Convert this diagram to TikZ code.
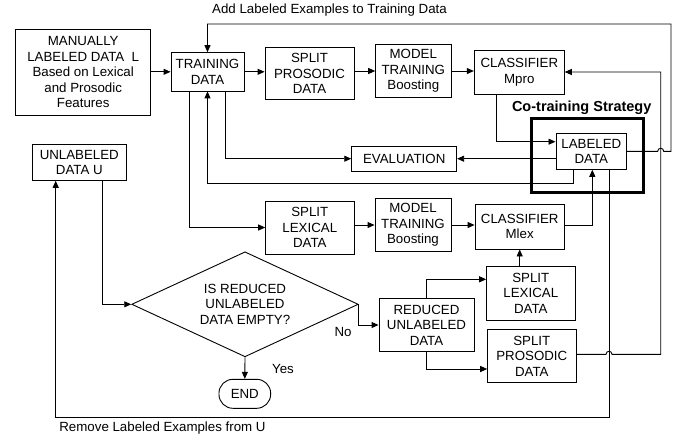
\documentclass[tikz,border=0pt]{standalone}
\usepackage{fontspec}
\setmainfont{Liberation Sans}
\usetikzlibrary{arrows.meta,shapes.geometric}
\begin{document}
\begin{tikzpicture}[x=1pt,y=-1pt,
  box/.style={draw,line width=0.9pt,align=center,inner sep=0pt,font=\fontsize{13.3}{15.5}\selectfont},
  arr/.style={line width=0.9pt,-{Triangle[length=7pt,width=6pt]}},
  lbl/.style={font=\fontsize{13.3}{15.5}\selectfont,inner sep=0pt}]
\useasboundingbox (0,0) rectangle (684,439);

% nodes
\node[box,minimum width=135pt,minimum height=85.7pt] (manual) at (83.2,72.2) {MANUALLY\\LABELED DATA\ \ L\\Based on Lexical\\and Prosodic\\Features};
\node[box,minimum width=73pt,minimum height=38.3pt] (train) at (207.5,71.8) {TRAINING\\DATA};
\node[box,minimum width=89pt,minimum height=52.4pt] (splitpro) at (309.5,73.5) {SPLIT\\PROSODIC\\DATA};
\node[box,minimum width=75.3pt,minimum height=53.4pt] (modelpro) at (413.3,71) {MODEL\\TRAINING\\Boosting};
\node[box,minimum width=90pt,minimum height=44pt] (clspro) at (519.3,72) {CLASSIFIER\\Mpro};
\node[draw,line width=3pt,minimum width=112pt,minimum height=74.4pt,inner sep=0pt] (cobox) at (587.7,155.5) {};
\node[font=\bfseries\fontsize{14.5}{17}\selectfont,inner sep=0pt] (cotitle) at (581.7,107.3) {Co-training Strategy};
\node[box,minimum width=70.7pt,minimum height=36pt] (labeled) at (591.3,151.3) {LABELED\\DATA};
\node[box,minimum width=105pt,minimum height=25.3pt] (eval) at (404.2,158.7) {EVALUATION};
\node[box,minimum width=94pt,minimum height=36pt] (unlab) at (79.3,162.3) {UNLABELED\\DATA U};
\node[box,minimum width=88.3pt,minimum height=53pt] (splitlex) at (309.8,227.5) {SPLIT\\LEXICAL\\DATA};
\node[box,minimum width=76pt,minimum height=53.4pt] (modellex) at (413,225) {MODEL\\TRAINING\\Boosting};
\node[box,minimum width=89.3pt,minimum height=45pt] (clslex) at (519.7,226.5) {CLASSIFIER\\Mlex};
\node[box,diamond,aspect=2.16,minimum width=226.6pt,minimum height=105pt] (decide) at (245,304.3) {IS REDUCED\\UNLABELED\\DATA EMPTY?};
\node[box,rounded corners=14pt,minimum width=51.7pt,minimum height=29pt] (endn) at (244.8,393.8) {END};
\node[box,minimum width=95pt,minimum height=53.4pt] (reduced) at (426.5,325) {REDUCED\\UNLABELED\\DATA};
\node[box,minimum width=88.3pt,minimum height=53.3pt] (splitlex2) at (530.8,293.3) {SPLIT\\LEXICAL\\DATA};
\node[box,minimum width=88.3pt,minimum height=53.4pt] (splitpro2) at (531.8,356) {SPLIT\\PROSODIC\\DATA};

\node[lbl] (addlbl) at (329.5,10.5) {Add Labeled Examples to Training Data};
\node[lbl] (remlbl) at (162.5,428.3) {Remove Labeled Examples from U};
\node[lbl] (yes) at (283,369) {Yes};
\node[lbl] (no) at (343,331.7) {No};

% connectors
\draw[arr] (manual.east |- train.west) -- (train.west);
\draw[arr] (train.east) -- (train.east -| splitpro.west);
\draw[arr] (splitpro.east |- modelpro.west) -- (modelpro.west);
\draw[arr] (modelpro.east) -- (modelpro.east -| clspro.west);
\draw[arr] ([xshift=-22.6pt]clspro.south) |- ([yshift=9.6pt]labeled.west);
\draw[arr] (labeled.east) -- (657.7,151.3) .. controls (657.7,147.3) and (663.7,147.3) .. (663.7,151.3) -- (671,151.3) -- (671,24) -| (train.north);
\draw[arr] ([yshift=-7.4pt]labeled.west) -- (eval.east);
\draw[arr] ([xshift=18.2pt]train.south) |- (eval.west);
\draw[arr] ([xshift=-18pt]labeled.south) -- ++(0,13.4) -| (train.south);
\draw[arr] ([xshift=-18.5pt]train.south) |- (splitlex.west);
\draw[arr] (splitlex.east |- modellex.west) -- (modellex.west);
\draw[arr] (modellex.east) -- (modellex.east -| clslex.west);
\draw[arr] ([yshift=1.5pt]clslex.east) -| ([xshift=1pt]labeled.south);
\draw[arr] ([xshift=17.7pt]labeled.south) -- ++(0,247.4) -| ([xshift=-23.6pt]unlab.south);
\draw[arr] ([xshift=23pt]unlab.south) |- (decide.west);
\draw[arr] (decide.south) -- (endn.north);
\draw[arr] (decide.east) -- ++(0,20.7) -- (reduced.west);
\draw[arr] (reduced.north) |- ([yshift=14pt]splitlex2.west);
\draw[arr] (reduced.south) |- ([yshift=-13pt]splitpro2.west);
\draw[arr] (clslex.south |- splitlex2.north) -- (clslex.south);
\draw[arr] ([yshift=1.7pt]splitpro2.east) -- (606,354.3) .. controls (606,350.3) and (612,350.3) .. (612,354.3) -- (660.7,354.3) -- (660.7,72) -- (clspro.east);
\end{tikzpicture}
\end{document}
